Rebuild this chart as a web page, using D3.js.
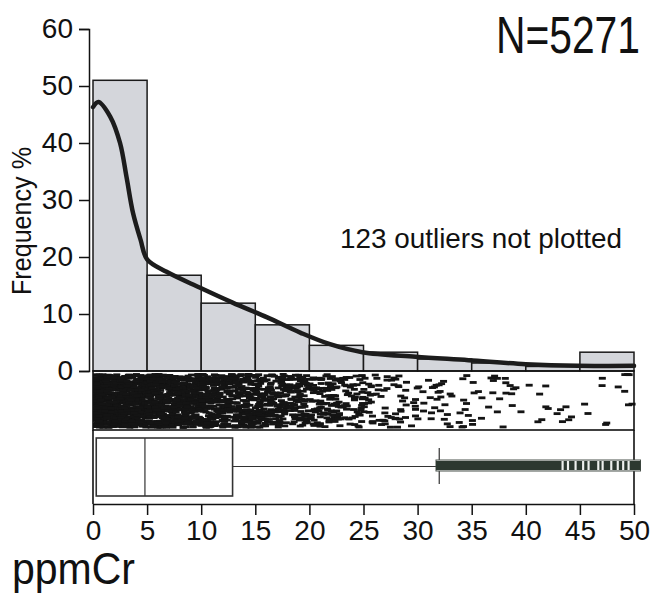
<!DOCTYPE html>
<html>
<head>
<meta charset="utf-8">
<script src="https://cdn.jsdelivr.net/npm/d3@7"></script>
<style>
  body { margin: 0; background: #fff; }
  svg { display: block; }
  text { font-family: "Liberation Sans Narrow", "Arial Narrow", "Liberation Sans", sans-serif; fill: #111; }
</style>
</head>
<body>
<svg id="chart" width="651" height="602"></svg>
<script>
// histogram (bin start, % frequency)
const binStarts = [0, 5, 10, 15, 20, 25, 30, 35, 40, 45];
const binFreq = [51, 16.8, 11.9, 8.1, 4.5, 3.3, 2.1, 1.4, 0.8, 3.3];

// density curve
const densX = [0, 0.5, 1.6, 2.5, 3.1, 3.7, 4.4, 5.0, 6.8, 9.9, 12.9, 16.1, 19.2, 21.9, 24.9, 29.8, 34.7, 40, 44.8, 50];
const densY = [46.3, 47.2, 44.6, 40, 34, 27.7, 23, 19.6, 17.4, 14.6, 12.0, 9.4, 6.7, 4.7, 3.3, 2.5, 1.9, 1.2, 0.9, 0.9];

// one-dimensional scatter: marks per 2.5 ppm slice
const stripStarts = [0, 2.5, 5, 7.5, 10, 12.5, 15, 17.5, 20, 22.5, 25, 27.5, 30, 32.5, 35, 37.5, 40, 42.5, 45, 47.5];
const stripCounts = [420, 380, 330, 280, 220, 180, 150, 120, 95, 68, 40, 30, 22, 16, 14, 11, 7, 6, 6, 7];

// box plot: lower hinge, median, upper hinge, upper whisker
const boxStats = [0.3, 4.8, 12.9, 32.0];
// runs of upper outliers (start, end)
const outlierRuns = [
  [31.7, 43.3], [43.5, 43.8], [44.0, 44.5], [44.7, 45.2], [45.4, 45.7], [45.9, 46.6],
  [46.8, 47.0], [47.2, 47.8], [48.0, 48.4], [48.6, 48.9], [49.1, 49.4], [49.6, 50.6]
];

const xTicks = [0, 5, 10, 15, 20, 25, 30, 35, 40, 45, 50];
const yTicks = [0, 10, 20, 30, 40, 50, 60];

const svg = d3.select("#chart");

const x = d3.scaleLinear().domain([0, 50]).range([93, 634]);
const y = d3.scaleLinear().domain([0, 60]).range([371, 29]);

const stripTop = 371, stripBottom = 430;
const boxTop = 438, boxBottom = 496, axisY = 504;

// bars
svg.append("g")
  .selectAll("rect")
  .data(binStarts)
  .join("rect")
  .attr("x", d => x(d))
  .attr("width", d => x(d + 5) - x(d))
  .attr("y", (d, i) => y(binFreq[i]))
  .attr("height", (d, i) => y(0) - y(binFreq[i]))
  .attr("fill", "#d4d6db")
  .attr("stroke", "#1a1a1a")
  .attr("stroke-width", 1.5);

// density line
const line = d3.line()
  .x(d => x(d[0]))
  .y(d => y(d[1]))
  .curve(d3.curveCatmullRom);

svg.append("path")
  .datum(d3.zip(densX, densY))
  .attr("d", line)
  .attr("fill", "none")
  .attr("stroke", "#1c1c1c")
  .attr("stroke-width", 4.5)
  .attr("stroke-linecap", "round");

// y axis
const yAxis = svg.append("g")
  .attr("transform", "translate(89,0)")
  .call(d3.axisLeft(y).tickValues(yTicks).tickSize(10).tickPadding(6));
yAxis.select(".domain").attr("stroke", "#111").attr("stroke-width", 1.5);
yAxis.selectAll(".tick line").attr("stroke", "#111").attr("stroke-width", 1.5);
yAxis.selectAll(".tick text")
  .style("font-size", "28px")
  .attr("fill", "#111");

svg.append("text")
  .attr("transform", "translate(31,221) rotate(-90)")
  .attr("text-anchor", "middle")
  .attr("textLength", 148)
  .attr("lengthAdjust", "spacingAndGlyphs")
  .style("font-size", "27px")
  .text("Frequency %");

// strip of jittered marks; jitter inside each slice is only layout
function jit(n) {
  let h = Math.imul(n ^ (n >>> 16), 0x45d9f3b);
  h = Math.imul(h ^ (h >>> 16), 0x45d9f3b);
  h ^= h >>> 16;
  return (h >>> 0) / 4294967296;
}
const marks = [];
let n = 0;
stripStarts.forEach((s, k) => {
  for (let i = 0; i < stripCounts[k]; i++) {
    n += 1;
    marks.push({ v: s + 2.5 * jit(n * 2 + 1), t: jit(n * 2 + 7919) });
  }
});
svg.append("g")
  .selectAll("rect")
  .data(marks)
  .join("rect")
  .attr("x", d => Math.max(x(0), x(d.v) - 3.5))
  .attr("y", d => stripTop + 2 + d.t * (stripBottom - stripTop - 6))
  .attr("width", 7)
  .attr("height", 2.8)
  .attr("fill", "#141414");

// frame around strip + box panel
svg.append("rect")
  .attr("x", x(0)).attr("y", stripTop)
  .attr("width", x(50) - x(0)).attr("height", stripBottom - stripTop)
  .attr("fill", "none").attr("stroke", "#111").attr("stroke-width", 1.6);
svg.append("line")
  .attr("x1", x(0)).attr("x2", x(0)).attr("y1", stripBottom).attr("y2", axisY)
  .attr("stroke", "#111").attr("stroke-width", 1.6);
svg.append("line")
  .attr("x1", x(50)).attr("x2", x(50)).attr("y1", stripBottom).attr("y2", axisY)
  .attr("stroke", "#111").attr("stroke-width", 1.6);

// box plot
const midY = (boxTop + boxBottom) / 2 - 0.5;
svg.append("line")
  .attr("x1", x(boxStats[2])).attr("x2", x(boxStats[3]))
  .attr("y1", midY).attr("y2", midY)
  .attr("stroke", "#333").attr("stroke-width", 1.2);
svg.append("line")
  .attr("x1", x(boxStats[3])).attr("x2", x(boxStats[3]))
  .attr("y1", 448).attr("y2", 484)
  .attr("stroke", "#333").attr("stroke-width", 1.2);
svg.append("rect")
  .attr("x", x(boxStats[0])).attr("y", boxTop)
  .attr("width", x(boxStats[2]) - x(boxStats[0])).attr("height", boxBottom - boxTop)
  .attr("fill", "#fff").attr("stroke", "#333").attr("stroke-width", 1.6);
svg.append("line")
  .attr("x1", x(boxStats[1])).attr("x2", x(boxStats[1]))
  .attr("y1", boxTop).attr("y2", boxBottom)
  .attr("stroke", "#333").attr("stroke-width", 1.2);

// outliers
svg.append("rect")
  .attr("x", x(outlierRuns[0][0])).attr("y", 460)
  .attr("width", x(outlierRuns[outlierRuns.length - 1][1]) - x(outlierRuns[0][0]))
  .attr("height", 11)
  .attr("fill", "#eef0ee").attr("stroke", "#4a524c").attr("stroke-width", 1);
svg.append("g")
  .selectAll("rect")
  .data(outlierRuns)
  .join("rect")
  .attr("x", d => x(d[0]))
  .attr("width", d => x(d[1]) - x(d[0]))
  .attr("y", 461)
  .attr("height", 9)
  .attr("fill", "#2c3830");

// x axis
const xAxis = svg.append("g")
  .attr("transform", `translate(0,${axisY})`)
  .call(d3.axisBottom(x).tickValues(xTicks).tickSize(11).tickPadding(5).tickSizeOuter(0));
xAxis.select(".domain").attr("stroke", "#111").attr("stroke-width", 1.6);
xAxis.selectAll(".tick line").attr("stroke", "#111").attr("stroke-width", 1.5);
xAxis.selectAll(".tick text")
  .style("font-size", "28px")
  .attr("fill", "#111");

// labels
svg.append("text")
  .attr("x", 12).attr("y", 584)
  .attr("textLength", 123)
  .attr("lengthAdjust", "spacingAndGlyphs")
  .style("font-size", "45px")
  .text("ppmCr");

svg.append("text")
  .attr("transform", "translate(640,53) scale(0.8,1)")
  .attr("text-anchor", "end")
  .style("font-size", "51px")
  .text("N=5271");

svg.append("text")
  .attr("x", 340).attr("y", 248)
  .attr("textLength", 282)
  .attr("lengthAdjust", "spacingAndGlyphs")
  .style("font-size", "28px")
  .text("123 outliers not plotted");
</script>
</body>
</html>
